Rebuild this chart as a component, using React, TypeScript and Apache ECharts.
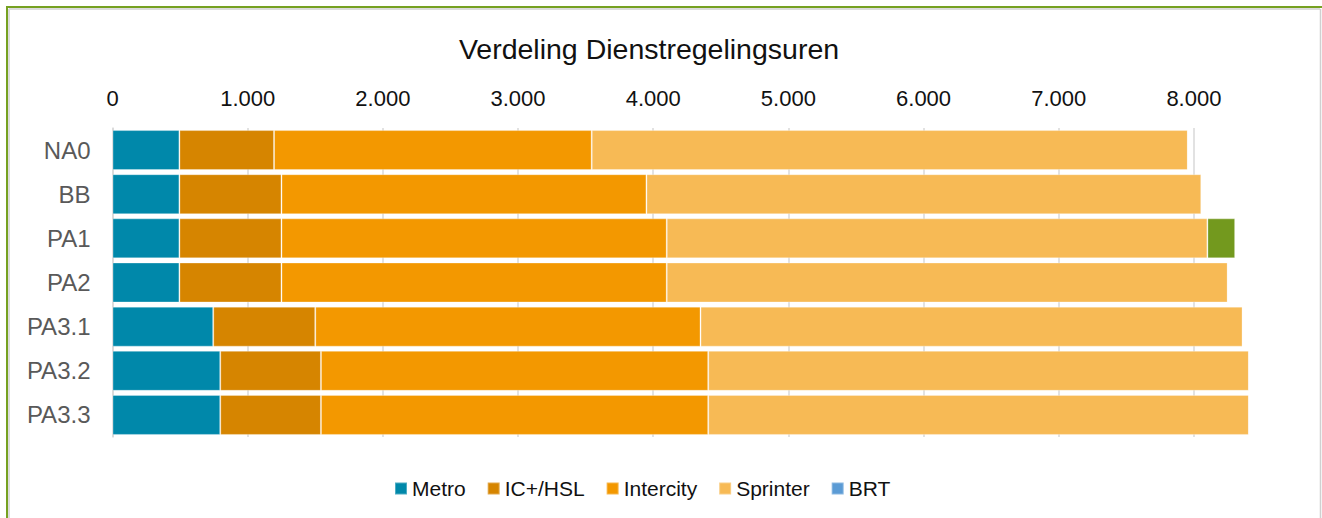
import React, { useEffect, useRef } from "react";
import * as echarts from "echarts";

const categories = ["NA0", "BB", "PA1", "PA2", "PA3.1", "PA3.2", "PA3.3"];
const metro = [495, 495, 495, 495, 745, 797, 797];
const icHsl = [700, 755, 755, 755, 755, 745, 745];
const intercity = [2350, 2700, 2850, 2850, 2850, 2865, 2865];
const sprinter = [4410, 4105, 4000, 4150, 4010, 4000, 4000];
const brt = [0, 0, 0, 0, 0, 0, 0];
const overig = [0, 0, 205, 0, 0, 0, 0];

const legendNames = ["Metro", "IC+/HSL", "Intercity", "Sprinter", "BRT"];
const seriesDefs = [
  { name: "Metro", data: metro, color: "#0088AA" },
  { name: "IC+/HSL", data: icHsl, color: "#D68500" },
  { name: "Intercity", data: intercity, color: "#F39800" },
  { name: "Sprinter", data: sprinter, color: "#F7BA55" },
  { name: "BRT", data: brt, color: "#5B9BD5" },
  { name: "Overig", data: overig, color: "#73991E" },
];

const FONT = "Liberation Sans, Arial, sans-serif";

export default function App() {
  const ref = useRef<HTMLDivElement>(null);
  useEffect(() => {
    document.body.style.margin = "0";
    if (!ref.current) return;
    const chart = echarts.init(ref.current, null, { renderer: "svg" });
    chart.setOption({
      animation: false,
      backgroundColor: "#ffffff",
      textStyle: { fontFamily: FONT },
      title: {
        text: "Verdeling Dienstregelingsuren",
        left: 644,
        textAlign: "center",
        top: 29,
        textStyle: { fontSize: 28.5, fontWeight: "normal", color: "#111", fontFamily: FONT },
      },
      legend: {
        data: legendNames,
        left: 389,
        top: 473,
        itemWidth: 12,
        itemHeight: 12,
        itemGap: 21,
        icon: "rect",
        textStyle: { fontSize: 21, color: "#111", fontFamily: FONT },
      },
      grid: { left: 112.5, top: 128, width: 1149, height: 309, containLabel: false },
      xAxis: {
        type: "value",
        position: "top",
        min: 0,
        max: 8500,
        interval: 1000,
        axisLine: { show: false },
        axisTick: { show: false },
        splitLine: { show: true, showMaxLine: false, lineStyle: { color: "#d9d9d9", width: 1.5 } },
        axisLabel: {
          fontSize: 22,
          color: "#111",
          margin: 19,
          fontFamily: FONT,
          formatter: (v: number) => (v > 8000 ? "" : v.toLocaleString("de-DE")),
        },
      },
      yAxis: {
        type: "category",
        data: categories,
        inverse: true,
        axisLine: { show: true, lineStyle: { color: "#d9d9d9", width: 1.5 } },
        axisTick: { show: false },
        axisLabel: { fontSize: 24, color: "#595959", margin: 22, fontFamily: FONT },
      },
      series: seriesDefs.map((s) => ({
        name: s.name,
        type: "bar",
        stack: "total",
        barWidth: 40,
        data: s.data,
        itemStyle: { color: s.color, borderColor: "rgba(255,255,255,0.3)", borderWidth: 1 },
        emphasis: { disabled: true },
      })),
      graphic: [
        { type: "line", shape: { x1: 7, y1: 7, x2: 7, y2: 518 }, style: { stroke: "#76A121", lineWidth: 2 } },
        { type: "line", shape: { x1: 6, y1: 7, x2: 1322, y2: 7 }, style: { stroke: "#76A121", lineWidth: 2 } },
        { type: "line", shape: { x1: 9, y1: 9, x2: 9, y2: 518 }, style: { stroke: "#dcdcdc", lineWidth: 2 } },
        { type: "line", shape: { x1: 9, y1: 9, x2: 1320, y2: 9 }, style: { stroke: "#dcdcdc", lineWidth: 2 } },
        { type: "line", shape: { x1: 1320.5, y1: 9, x2: 1320.5, y2: 518 }, style: { stroke: "#d0d0d0", lineWidth: 1.5 } },
      ],
    });
    return () => chart.dispose();
  }, []);
  return <div ref={ref} style={{ width: 1322, height: 518 }} />;
}
